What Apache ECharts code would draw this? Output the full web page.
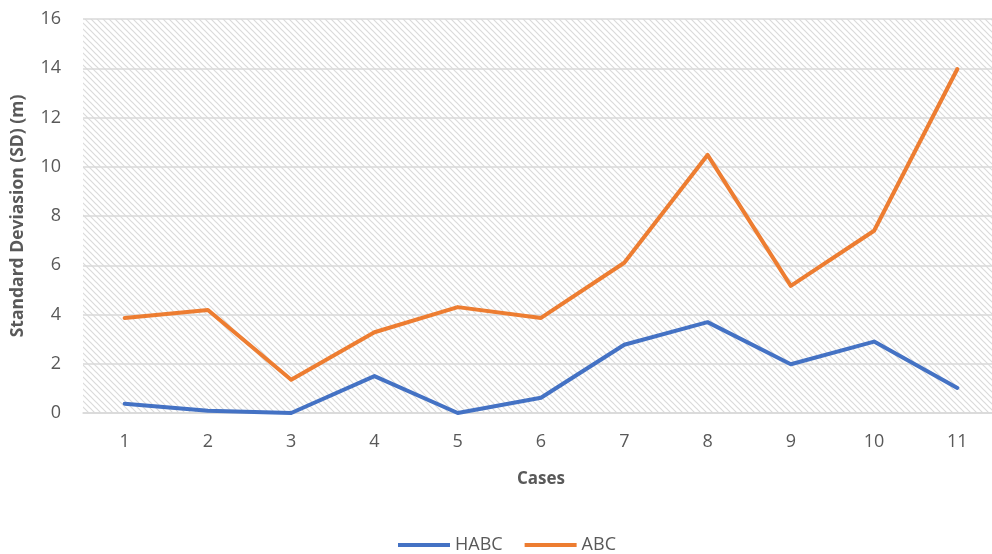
<!DOCTYPE html>
<html>
<head>
<meta charset="utf-8">
<script src="https://cdn.jsdelivr.net/npm/echarts@6/dist/echarts.min.js"></script>
<style>
  html, body { margin: 0; padding: 0; background: #fff; }
  #chart { width: 992px; height: 554px; }
</style>
</head>
<body>
<div id="chart"></div>
<script>
const cases = ['1', '2', '3', '4', '5', '6', '7', '8', '9', '10', '11'];
const habc = [0.38, 0.09, 0.0, 1.5, 0.0, 0.62, 2.77, 3.69, 1.98, 2.9, 1.02];
const abc = [3.86, 4.18, 1.35, 3.28, 4.3, 3.86, 6.1, 10.48, 5.16, 7.4, 13.97];

// Diagonal hatch tile used as the plot-area fill
function hatchTile() {
  const size = 6;
  const c = document.createElement('canvas');
  c.width = size; c.height = size;
  const ctx = c.getContext('2d');
  ctx.fillStyle = '#ffffff';
  ctx.fillRect(0, 0, size, size);
  ctx.strokeStyle = '#dadada';
  ctx.lineWidth = 1.2;
  ctx.beginPath();
  ctx.moveTo(-1, -1); ctx.lineTo(size + 1, size + 1);
  ctx.moveTo(-1 - size, -1); ctx.lineTo(1, size + 1);
  ctx.moveTo(size - 1, -1); ctx.lineTo(2 * size + 1, size + 1);
  ctx.stroke();
  return c;
}

const font = '"Open Sans", "Noto Sans", sans-serif';
const chart = echarts.init(document.getElementById('chart'));
chart.setOption({
  animation: false,
  grid: {
    left: 83, width: 916, top: 19, bottom: 141,
    outerBoundsMode: 'none',
    containLabel: false,
    show: true,
    borderWidth: 0,
    backgroundColor: { image: hatchTile(), repeat: 'repeat' }
  },
  legend: {
    top: 531,
    left: 393,
    itemWidth: 52,
    itemHeight: 4,
    itemGap: 22,
    icon: 'rect',
    textStyle: { color: '#595959', fontSize: 18, fontFamily: font },
    data: ['HABC', 'ABC']
  },
  xAxis: {
    type: 'category',
    data: cases,
    boundaryGap: true,
    name: 'Cases',
    nameLocation: 'middle',
    nameGap: 58,
    nameTextStyle: { color: '#595959', fontSize: 17, fontWeight: 'bold', fontFamily: font },
    axisLine: { lineStyle: { color: '#d9d9d9', width: 1.5 } },
    axisTick: { show: false },
    axisLabel: { color: '#595959', fontSize: 18, fontFamily: font, margin: 20 }
  },
  yAxis: {
    type: 'value',
    min: 0, max: 16, interval: 2,
    name: 'Standard Deviasion (SD) (m)',
    nameLocation: 'middle',
    nameGap: 56,
    nameTextStyle: { color: '#595959', fontSize: 17.5, fontWeight: 'bold', fontFamily: font },
    axisLine: { show: false },
    axisTick: { show: false },
    axisLabel: { color: '#595959', fontSize: 18, fontFamily: font, margin: 22 },
    splitLine: { lineStyle: { color: '#d9d9d9', width: 1.5 } }
  },
  series: [
    {
      name: 'HABC', type: 'line', data: habc,
      symbol: 'none',
      lineStyle: { color: '#4472C4', width: 4, cap: 'round', join: 'round' },
      itemStyle: { color: '#4472C4' }
    },
    {
      name: 'ABC', type: 'line', data: abc,
      symbol: 'none',
      lineStyle: { color: '#ED7D31', width: 4, cap: 'round', join: 'round' },
      itemStyle: { color: '#ED7D31' }
    }
  ]
});
</script>
</body>
</html>
